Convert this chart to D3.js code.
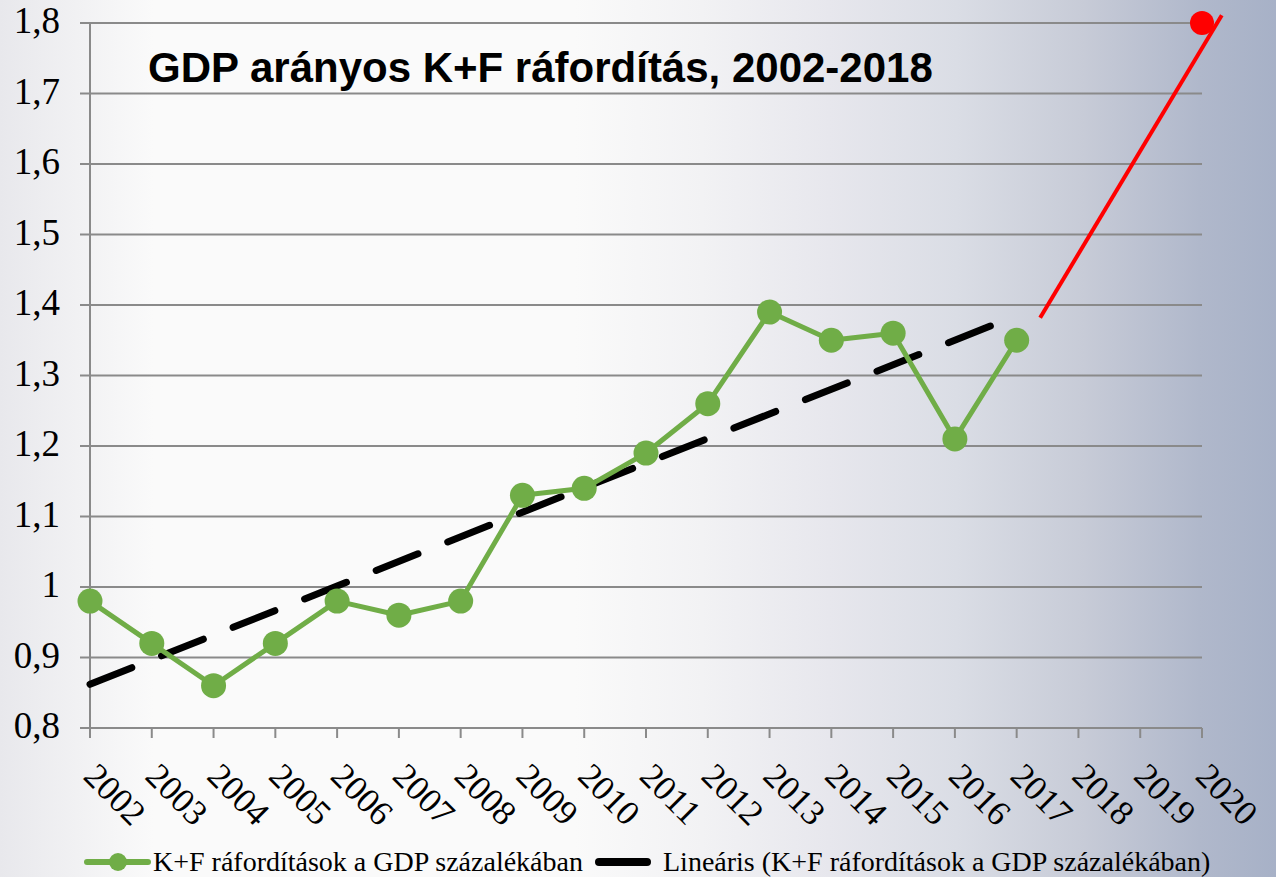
<!DOCTYPE html>
<html><head><meta charset="utf-8">
<script src="https://cdn.jsdelivr.net/npm/d3@7"></script>
<style>html,body{margin:0;padding:0;overflow:hidden;background:#fff}svg{display:block}</style>
</head><body>
<script>
// ---- data ----
const years = [2002,2003,2004,2005,2006,2007,2008,2009,2010,2011,2012,2013,2014,2015,2016,2017];
const values = [0.98,0.92,0.86,0.92,0.98,0.96,0.98,1.13,1.14,1.19,1.26,1.39,1.35,1.36,1.21,1.35];
const axisYears = ["2002","2003","2004","2005","2006","2007","2008","2009","2010","2011","2012","2013","2014","2015","2016","2017","2018","2019","2020"];
const yTicks = [0.8,0.9,1.0,1.1,1.2,1.3,1.4,1.5,1.6,1.7,1.8];
const yTickLabels = ["0,8","0,9","1","1,1","1,2","1,3","1,4","1,5","1,6","1,7","1,8"];
const trendYears = [2002, 2017];
const trendValues = [0.862, 1.385];
const targetYears = [2017.38, 2020.32];
const targetValues = [1.382, 1.811];
const targetPoint = [2020, 1.8];
const title = "GDP arányos K+F ráfordítás, 2002-2018";
const legendLabels = ["K+F ráfordítások a GDP százalékában", "Lineáris (K+F ráfordítások a GDP százalékában)"];

const W = 1276, H = 877;
const svg = d3.select("body").append("svg").attr("width", W).attr("height", H);
const defs = svg.append("defs");
const g = defs.append("linearGradient").attr("id","bg").attr("x1","0").attr("x2","1").attr("y1","0").attr("y2","0");
[[0,"#e8e8ec"],[0.06,"#f1f1f3"],[0.12,"#fafafa"],[0.45,"#fafafa"],[0.55,"#f2f2f4"],[0.65,"#e7e7ed"],[0.75,"#dadde5"],[0.85,"#c7cbd7"],[0.94,"#b0b8cb"],[1,"#a7b1c7"]]
  .forEach(([o,c]) => g.append("stop").attr("offset",o).attr("stop-color",c));
svg.append("rect").attr("width",W).attr("height",H).attr("fill","url(#bg)");

const x = d3.scaleLinear().domain([2002, 2020]).range([90, 1202]);
const y = d3.scaleLinear().domain([0.8, 1.8]).range([728, 23]);
const grid = "#8a8a8a";

// gridlines + y labels
svg.append("g").selectAll("line").data(yTicks).join("line")
  .attr("x1", 80).attr("x2", x(2020)).attr("y1", d => y(d)).attr("y2", d => y(d))
  .attr("stroke", grid).attr("stroke-width", 2);
svg.append("g").selectAll("text").data(yTicks).join("text")
  .attr("x", 60).attr("y", d => y(d) + 10).attr("text-anchor","end")
  .attr("font-family","'Liberation Serif','Times New Roman',serif").attr("font-size",37).attr("fill","#000")
  .text((d,i) => yTickLabels[i]);

// y axis line
svg.append("line").attr("x1",x(2002)).attr("x2",x(2002)).attr("y1",y(1.8)).attr("y2",y(0.8)+10)
  .attr("stroke",grid).attr("stroke-width",2);
// x ticks
svg.append("g").selectAll("line").data(axisYears).join("line")
  .attr("x1", d => x(+d)).attr("x2", d => x(+d)).attr("y1", y(0.8)).attr("y2", y(0.8)+10)
  .attr("stroke", grid).attr("stroke-width", 2);
svg.append("g").selectAll("text").data(axisYears).join("text")
  .attr("transform", d => `translate(${x(+d)-8},${y(0.8)+50}) rotate(45)`)
  .attr("font-family","'Liberation Serif','Times New Roman',serif").attr("font-size",35).attr("fill","#000")
  .text(d => d);

// trend line
const line = d3.line().x(d => x(d[0])).y(d => y(d[1]));
svg.append("path").datum(trendYears.map((t,i) => [t, trendValues[i]]))
  .attr("d", line).attr("fill","none").attr("stroke","#000").attr("stroke-width",7)
  .attr("stroke-dasharray","45,32").attr("stroke-linecap","round");

// green series
const green = "#70ad47";
svg.append("path").datum(years.map((t,i) => [t, values[i]]))
  .attr("d", line).attr("fill","none").attr("stroke",green).attr("stroke-width",5).attr("stroke-linejoin","round");
svg.append("g").selectAll("circle").data(years).join("circle")
  .attr("cx", d => x(d)).attr("cy", (d,i) => y(values[i])).attr("r", 12.5).attr("fill", green);

// red target line + dot
svg.append("path").datum(targetYears.map((t,i) => [t, targetValues[i]]))
  .attr("d", line).attr("fill","none").attr("stroke","#ff0000").attr("stroke-width",4);
svg.append("circle").attr("cx", x(targetPoint[0])).attr("cy", y(targetPoint[1])).attr("r", 12).attr("fill","#ff0000");

// title
svg.append("text").attr("x",148).attr("y",82)
  .attr("font-family","'Liberation Sans',Arial,sans-serif").attr("font-weight","bold").attr("font-size",42).attr("fill","#000")
  .text(title);

// legend
const ly = 862;
svg.append("line").attr("x1",87).attr("x2",148).attr("y1",ly).attr("y2",ly).attr("stroke",green).attr("stroke-width",6).attr("stroke-linecap","round");
svg.append("circle").attr("cx",118).attr("cy",ly).attr("r",9).attr("fill",green);
svg.append("text").attr("x",153).attr("y",ly+9)
  .attr("font-family","'Liberation Serif','Times New Roman',serif").attr("font-size",28).attr("fill","#000")
  .text(legendLabels[0]);
svg.append("line").attr("x1",599).attr("x2",647).attr("y1",ly).attr("y2",ly).attr("stroke","#000").attr("stroke-width",8).attr("stroke-linecap","round");
svg.append("text").attr("x",663).attr("y",ly+9)
  .attr("font-family","'Liberation Serif','Times New Roman',serif").attr("font-size",28).attr("fill","#000")
  .text(legendLabels[1]);
</script>
</body></html>
